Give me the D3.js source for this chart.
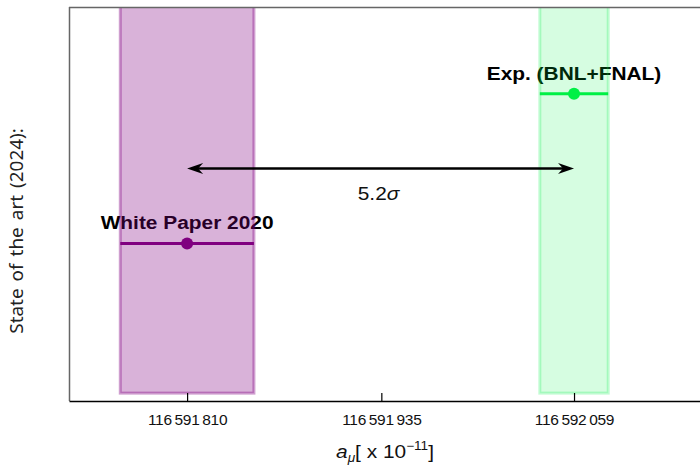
<!DOCTYPE html>
<html>
<head>
<meta charset="utf-8">
<script src="https://cdn.jsdelivr.net/npm/d3@7"></script>
<style>
  body { margin: 0; background: #fff; }
  svg { display: block; }
</style>
</head>
<body>
<div id="chart"></div>
<script>
// values
const measurements = ["White Paper 2020", "Exp. (BNL+FNAL)"];
const centralValues = [116591810, 116592059];
const uncertainties = [43, 22];
const rowLevels = [0.4, 0.78];
const tickValues = [116591810, 116591935, 116592059];
const xDomain = [116591734, 116592142];
const arrowLevel = 0.59;
const tensionText = "5.2";

const colors = ["#800080", "#00f046"];
const bandOpacity = [0.3, 0.16];

// chart dimensions
const W = 700, H = 466;
const margin = { top: 7, right: -3, bottom: 65, left: 69 };
const plotW = W - margin.left - margin.right;
const plotH = H - margin.top - margin.bottom;
const sx = 1.13; // the reference glyphs are a little wide

const svg = d3.select("#chart").append("svg")
    .attr("width", W).attr("height", H);

const x = d3.scaleLinear().domain(xDomain).range([0, plotW]);
const y = d3.scaleLinear().domain([0, 1]).range([plotH, 0]);

const g = svg.append("g")
    .attr("transform", "translate(" + margin.left + "," + margin.top + ")");

g.append("defs").append("clipPath").attr("id", "clip")
    .append("rect").attr("width", plotW).attr("height", plotH);

const data = measurements.map((m, i) => ({
    name: m, v: centralValues[i], e: uncertainties[i], level: rowLevels[i],
    color: colors[i], op: bandOpacity[i]
}));

// labels (under the bands, so they get tinted)
data.forEach(d => {
    g.append("text")
        .attr("transform", "translate(" + x(d.v) + "," + (y(d.level) - 14) + ") scale(" + sx + ",1)")
        .attr("text-anchor", "middle")
        .style("font-family", "Liberation Sans, Arial, sans-serif")
        .style("font-weight", "bold")
        .style("font-size", "18.5px")
        .attr("fill", "#000")
        .text(d.name);
});

// error bars + central points
data.forEach(d => {
    g.append("line")
        .attr("x1", x(d.v - d.e)).attr("x2", x(d.v + d.e))
        .attr("y1", y(d.level)).attr("y2", y(d.level))
        .attr("stroke", d.color).attr("stroke-width", 3);
    g.append("circle")
        .attr("cx", x(d.v)).attr("cy", y(d.level)).attr("r", 6)
        .attr("fill", d.color);
});

// uncertainty bands
const bands = g.append("g").attr("clip-path", "url(#clip)");
data.forEach(d => {
    bands.append("rect")
        .attr("x", x(d.v - d.e))
        .attr("width", x(d.v + d.e) - x(d.v - d.e))
        .attr("y", y(1.1))
        .attr("height", y(0.02) - y(1.1))
        .attr("fill", d.color).attr("fill-opacity", d.op)
        .attr("stroke", d.color).attr("stroke-opacity", d.op + 0.08)
        .attr("stroke-width", 3);
});

// double arrow between the two central values
const ay = y(arrowLevel);
const x0 = x(centralValues[0]), x1 = x(centralValues[1]);
g.append("line")
    .attr("x1", x0 + 6).attr("x2", x1 - 6)
    .attr("y1", ay).attr("y2", ay)
    .attr("stroke", "#000").attr("stroke-width", 2.5);
function head(tip, dir) {
    const L = 16, w = 5.5, b = 11;
    return "M" + tip + "," + ay +
        "L" + (tip + dir * L) + "," + (ay - w) +
        "L" + (tip + dir * b) + "," + ay +
        "L" + (tip + dir * L) + "," + (ay + w) + "Z";
}
g.append("path").attr("d", head(x0, 1)).attr("fill", "#000");
g.append("path").attr("d", head(x1, -1)).attr("fill", "#000");

const sig = g.append("text")
    .attr("transform", "translate(" + ((x0 + x1) / 2 - 2) + "," + (ay + 31) + ") scale(" + sx + ",1)")
    .attr("text-anchor", "middle")
    .style("font-family", "Liberation Sans, Arial, sans-serif")
    .style("font-size", "18.5px")
    .attr("fill", "#111");
sig.append("tspan").text(tensionText);
sig.append("tspan").style("font-style", "italic").text("σ");

// frame: top and left in grey
g.append("line").attr("x1", 0).attr("x2", plotW).attr("y1", 0.5).attr("y2", 0.5)
    .attr("stroke", "#666").attr("stroke-width", 1.5);
g.append("line").attr("x1", 0.5).attr("x2", 0.5).attr("y1", 0).attr("y2", plotH)
    .attr("stroke", "#666").attr("stroke-width", 1.5);

// x axis
const fmt = v => d3.format(",")(v).replace(/,/g, "\u2009");
const xAxis = d3.axisBottom(x).tickValues(tickValues).tickFormat(fmt)
    .tickSizeInner(-8).tickSizeOuter(0).tickPadding(13);
const xNode = g.append("g")
    .attr("transform", "translate(0," + plotH + ")")
    .call(xAxis);
xNode.select(".domain").attr("stroke", "#000").attr("stroke-width", 1.5);
xNode.selectAll(".tick line").attr("stroke", "#000").attr("stroke-width", 1.2);
xNode.selectAll("text")
    .style("font-family", "Liberation Sans, Arial, sans-serif")
    .style("font-size", "15.5px")
    .style("letter-spacing", "-0.3px")
    .attr("fill", "#111");

// axis titles
const xl = svg.append("text")
    .attr("transform", "translate(" + 385 + "," + 458 + ") scale(" + sx + ",1)")
    .attr("text-anchor", "middle")
    .style("font-family", "Liberation Sans, Arial, sans-serif")
    .style("font-size", "18.5px")
    .attr("fill", "#111");
xl.append("tspan").style("font-style", "italic").text("a");
xl.append("tspan").attr("dy", 4).style("font-size", "12px").style("font-style", "italic").text("μ");
xl.append("tspan").attr("dy", -4).text("[ x 10");
xl.append("tspan").attr("dy", -8).style("font-size", "12px").text("−11");
xl.append("tspan").attr("dy", 8).text("]");

svg.append("text")
    .attr("transform", "translate(23," + 231 + ") rotate(-90) scale(1.08,1)")
    .attr("text-anchor", "middle")
    .style("font-family", "Noto Sans, Open Sans, sans-serif")
    .style("font-size", "17.5px")
    .style("word-spacing", "2px")
    .attr("fill", "#222")
    .text("State of the art (2024):");
</script>
</body>
</html>
